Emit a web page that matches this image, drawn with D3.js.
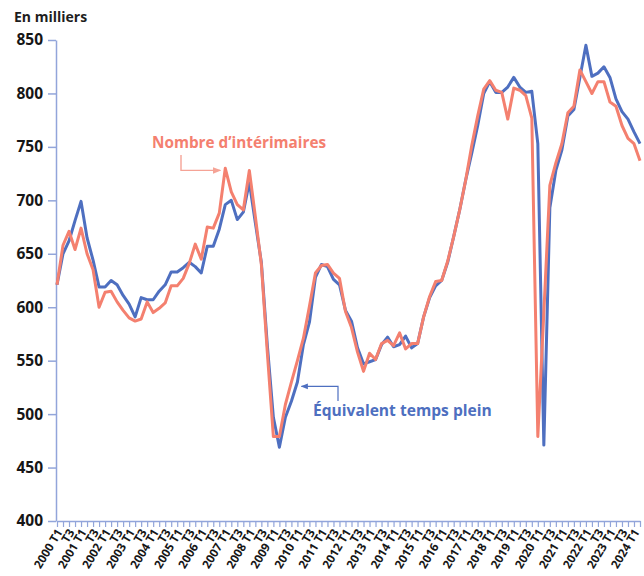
<!DOCTYPE html>
<html>
<head>
<meta charset="utf-8">
<script src="https://cdn.jsdelivr.net/npm/d3@7"></script>
<style>
  body { margin: 0; background: #fff; }
  svg { display: block; }
  text { font-family: "Open Sans", "DejaVu Sans", sans-serif; font-weight: 700; }
</style>
</head>
<body>
<svg id="chart" width="644" height="576"></svg>
<script>
// ---- data (en milliers) ----
const years = [2000, 2001, 2002, 2003, 2004, 2005, 2006, 2007, 2008, 2009, 2010, 2011, 2012,
               2013, 2014, 2015, 2016, 2017, 2018, 2019, 2020, 2021, 2022, 2023, 2024];
const quarterNames = ["T1", "T2", "T3", "T4"];
const lastQuarter = "2024 T2";

const interimaires = [
  621, 658, 671, 654, 674, 650, 635, 600, 614, 615, 605, 597, 590, 587, 589, 605,
  595, 599, 604, 620, 620, 627, 641, 659, 645, 675, 674, 688, 730, 708, 696, 691,
  728, 685, 640, 557, 479, 479, 509, 530, 550, 571, 601, 632, 639, 640, 632, 627,
  596, 581, 558, 540, 557, 551, 566, 569, 564, 576, 561, 566, 566, 591, 610, 624,
  625, 643, 666, 691, 719, 751, 779, 804, 812, 803, 801, 776, 805, 803, 798, 777,
  479, 595, 714, 735, 753, 782, 788, 822, 811, 800, 811, 811, 792, 788, 770, 758,
  753, 737
];
const etp = [
  621, 650, 662, 681, 699, 665, 644, 619, 619, 625, 621, 611, 603, 591, 609, 607,
  607, 615, 621, 633, 633, 637, 642, 638, 632, 657, 657, 673, 696, 700, 682, 689,
  717, 679, 642, 564, 497, 469, 497, 512, 530, 565, 586, 628, 640, 638, 626, 621,
  597, 587, 562, 547, 549, 551, 565, 572, 563, 565, 573, 562, 566, 591, 609, 620,
  625, 642, 666, 691, 719, 744, 770, 800, 811, 801, 801, 806, 815, 806, 801, 802,
  753, 471, 693, 728, 747, 779, 785, 815, 845, 816, 819, 825, 815, 795, 783, 776,
  764, 753
];
const yTicks = [400, 450, 500, 550, 600, 650, 700, 750, 800, 850];

// categories "2000 T1" ... "2024 T2"
const quarters = [];
years.forEach(yr => quarterNames.forEach(q => quarters.push(yr + " " + q)));
quarters.splice(quarters.indexOf(lastQuarter) + 1);

const orange = "#f4806f";
const blue = "#4e6fc0";
const axisColor = "#92a5da";

const svg = d3.select("#chart");

const x = d3.scalePoint().domain(quarters).range([57, 640]);
const y = d3.scaleLinear().domain([400, 850]).range([521, 40]);

// "En milliers"
svg.append("text")
  .attr("x", 14).attr("y", 22)
  .style("font-size", "14px").attr("fill", "#1e1e1e")
  .text("En milliers");

// y axis
const yAxis = svg.append("g")
  .attr("transform", "translate(56,0)")
  .call(d3.axisLeft(y).tickValues(yTicks).tickSize(8).tickSizeOuter(0).tickPadding(5));
yAxis.select(".domain").attr("stroke", axisColor).attr("stroke-width", 1.5);
yAxis.selectAll(".tick line").attr("stroke", axisColor).attr("stroke-width", 1.5);
yAxis.selectAll(".tick text")
  .style("font-size", "15.5px").style("font-family", "'Open Sans', sans-serif")
  .style("font-weight", 700).attr("fill", "#161616");

// x axis
const xAxis = svg.append("g")
  .attr("transform", "translate(0,521)")
  .call(d3.axisBottom(x).tickSize(6).tickSizeOuter(0)
    .tickFormat((d, i) => {
      if (i % 2) return "";
      return d.endsWith("T1") ? d : "T3";
    }));
xAxis.select(".domain").attr("stroke", axisColor).attr("stroke-width", 1.5);
xAxis.selectAll(".tick line").attr("stroke", axisColor).attr("stroke-width", 1.2);
xAxis.selectAll(".tick text")
  .attr("x", 0).attr("y", 0).attr("dy", "0.35em")
  .attr("transform", "translate(2,9) rotate(-59)")
  .attr("text-anchor", "end")
  .style("font-size", "11.8px").style("font-family", "'Open Sans', sans-serif")
  .style("font-weight", 700).attr("fill", "#161616");

// lines
const line = d3.line()
  .x((d, i) => x(quarters[i]))
  .y(d => y(d));

svg.append("path").datum(etp)
  .attr("fill", "none").attr("stroke", blue).attr("stroke-width", 3)
  .attr("stroke-linejoin", "round").attr("d", line);

svg.append("path").datum(interimaires)
  .attr("fill", "none").attr("stroke", orange).attr("stroke-width", 3)
  .attr("stroke-linejoin", "round").attr("d", line);

// arrow markers
const defs = svg.append("defs");
[["arrowOrange", "#f5a396"], ["arrowBlue", blue]].forEach(([id, c]) => {
  defs.append("marker")
    .attr("id", id).attr("viewBox", "0 0 10 10")
    .attr("refX", 9).attr("refY", 5)
    .attr("markerWidth", 6).attr("markerHeight", 6)
    .attr("orient", "auto-start-reverse")
    .append("path").attr("d", "M0,1 L10,5 L0,9 Z").attr("fill", c);
});

// annotation: Nombre d'intérimaires
const tipO = [x("2007 T1") - 5, y(728)];
svg.append("path")
  .attr("fill", "none").attr("stroke", "#f5a396").attr("stroke-width", 1.4)
  .attr("marker-end", "url(#arrowOrange)")
  .attr("d", `M181,155 V${tipO[1]} H${tipO[0]}`);
svg.append("text")
  .attr("x", 152).attr("y", 148)
  .style("font-size", "15.3px").attr("fill", orange)
  .text("Nombre d’intérimaires");

// annotation: Équivalent temps plein
const tipB = [x("2010 T1") + 4, y(526)];
svg.append("path")
  .attr("fill", "none").attr("stroke", blue).attr("stroke-width", 1.2)
  .attr("marker-end", "url(#arrowBlue)")
  .attr("d", `M338,401 V${tipB[1]} H${tipB[0]}`);
svg.append("text")
  .attr("x", 313).attr("y", 416)
  .style("font-size", "15.6px").attr("fill", blue)
  .text("Équivalent temps plein");
</script>
</body>
</html>
